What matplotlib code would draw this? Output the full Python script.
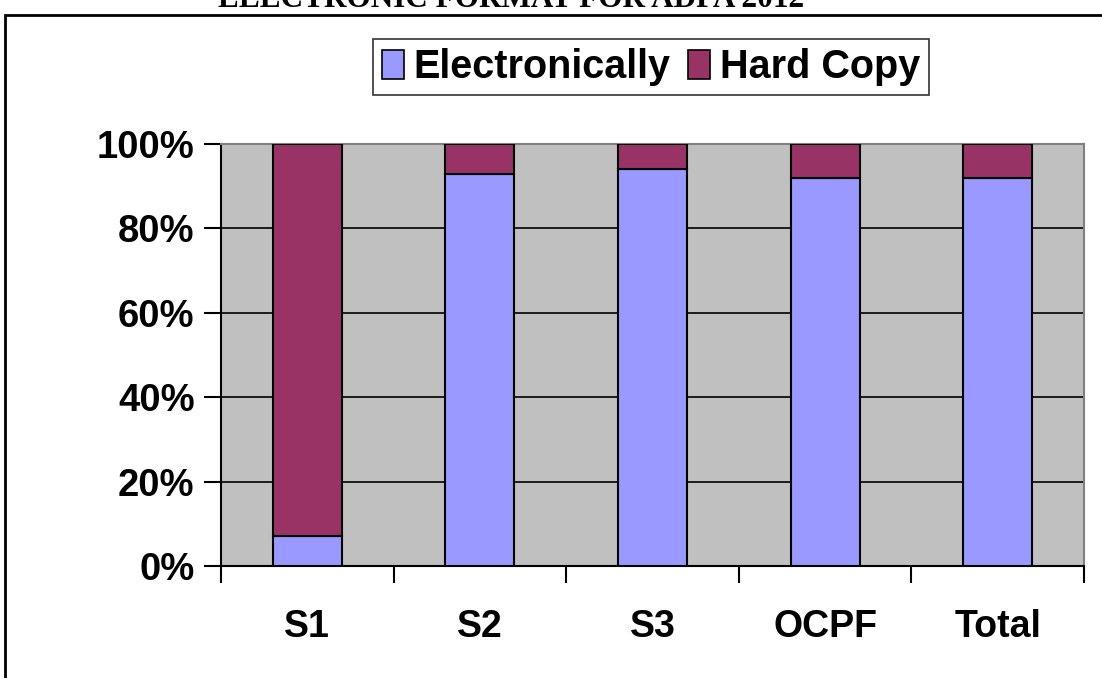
import numpy as np
import matplotlib.pyplot as plt
from matplotlib.patches import Rectangle

categories = ["S1", "S2", "S3", "OCPF", "Total"]
electronically = [7, 93, 94, 92, 92]
hard_copy = [93, 7, 6, 8, 8]
yticks = [0, 20, 40, 60, 80, 100]
ylabels = ["0%", "20%", "40%", "60%", "80%", "100%"]

plt.rcParams['font.family'] = ['Liberation Sans', 'DejaVu Sans']

fig = plt.figure(figsize=(11.02, 6.78), dpi=100)
ax = fig.add_axes([221/1102, 1-566/678, (1084-221)/1102, (566-144)/678])

x = np.arange(len(categories))
ax.set_facecolor('#C0C0C0')
ax.bar(x, electronically, 0.4, color='#9999FF', edgecolor='black', linewidth=1.5,
       label='Electronically', zorder=3)
ax.bar(x, hard_copy, 0.4, bottom=electronically, color='#993366', edgecolor='black',
       linewidth=1.5, label='Hard Copy', zorder=3)

ax.set_xlim(-0.5, 4.5)
ax.set_ylim(0, 100)
ax.set_yticks(yticks)
ax.set_yticklabels(ylabels, fontsize=27.5, fontweight='bold')
ax.set_xticks(x)
ax.set_xticklabels(categories, fontsize=27, fontweight='bold')
ax.tick_params(axis='x', length=0, pad=31)
ax.set_xticks(np.arange(-0.5, 5, 1), minor=True)
ax.tick_params(axis='x', which='minor', length=12, width=1.5, direction='out')
ax.tick_params(axis='y', length=12, width=1.5, direction='out', pad=7)
ax.grid(axis='y', color='black', linewidth=1.2, zorder=1)
ax.set_axisbelow(True)
for s in ['top', 'right']:
    ax.spines[s].set_color('#808080')
    ax.spines[s].set_linewidth(1.5)
for s in ['left', 'bottom']:
    ax.spines[s].set_linewidth(1.5)

leg = fig.legend(loc='center', bbox_to_anchor=(651/1102, 1-67/678), ncol=2,
                 prop={'size': 28.5, 'weight': 'bold'}, frameon=True, fancybox=False,
                 edgecolor='black', handlelength=0.55, handleheight=0.75,
                 handletextpad=0.25, columnspacing=0.45, borderpad=0.22)
leg.get_frame().set_linewidth(1.2)
for h in leg.legend_handles:
    h.set_linewidth(1.2)

# outer chart frame
fig.patches.append(Rectangle((5/1102, -0.1), 1.2, 1.1 - 15/678, transform=fig.transFigure,
                             fill=False, edgecolor='black', linewidth=2))
fig.text(511/1102, 1-7/678, "ELECTRONIC FORMAT FOR ADPA 2012", ha='center', va='baseline',
         fontsize=22.5, fontweight='bold', family='Liberation Serif')

fig.savefig('out.png', dpi=100)
